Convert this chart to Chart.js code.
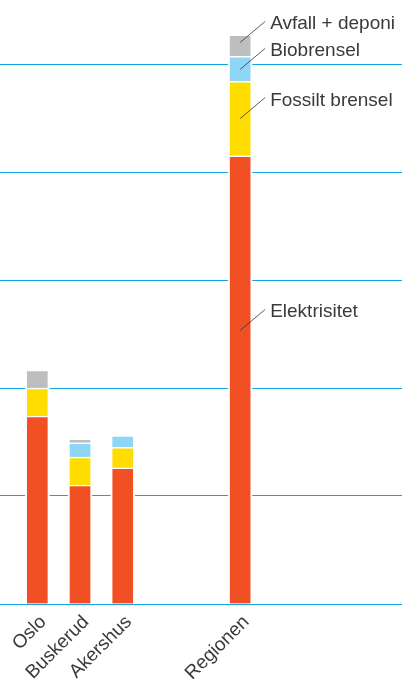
<!DOCTYPE html>
<html>
<head>
<meta charset="utf-8">
<script src="https://cdn.jsdelivr.net/npm/chart.js@4"></script>
<style>
  html, body { margin: 0; padding: 0; background: #fff; }
  #wrap { width: 402px; height: 679px; position: relative; }
</style>
</head>
<body>
<div id="wrap"><canvas id="chart"></canvas></div>
<script>
'use strict';

// categories and where they sit along the x axis (Regionen stands apart)
const categories = ['Oslo', 'Buskerud', 'Akershus', 'Regionen'];
const slots      = [0, 1, 2, 4.75];

// energy use by source, stacked bottom to top
const elektrisitet = [17.4, 11.0, 12.6, 41.5];
const fossilt      = [2.6, 2.6, 1.9, 6.9];
const biobrensel   = [0, 1.33, 1.1, 2.3];
const avfall       = [1.67, 0.37, 0, 2.0];

const gridValues   = [0, 10, 20, 30, 40, 50];

const seriesNames  = ['Elektrisitet', 'Fossilt brensel', 'Biobrensel', 'Avfall + deponi'];
const seriesColors = ['#f15024', '#ffdd00', '#8dd6f6', '#bcbec0'];
// where the leader line touches the Regionen segment (share of segment height, from bottom)
const labelAnchor  = [0.61, 0.5, 0.48, 0.65];

const gridColor = '#14a4df';
const textColor = '#3a3a3a';
const font = "'Liberation Sans', Arial, sans-serif";

const series = [elektrisitet, fossilt, biobrensel, avfall];

const calloutPlugin = {
  id: 'callouts',
  afterDatasetsDraw(chart) {
    const ctx = chart.ctx;
    ctx.save();
    ctx.strokeStyle = '#333';
    ctx.lineWidth = 0.8;
    ctx.fillStyle = textColor;
    ctx.font = '300 19px ' + font;
    ctx.textBaseline = 'alphabetic';
    series.forEach((_, i) => {
      const el = chart.getDatasetMeta(i).data[3];
      const x0 = el.x;
      const y0 = el.base - (el.base - el.y) * labelAnchor[i];
      const x1 = x0 + 25, y1 = y0 - 21;
      ctx.beginPath();
      ctx.moveTo(x0, y0);
      ctx.lineTo(x1, y1);
      ctx.stroke();
      ctx.fillText(seriesNames[i], x1 + 5, y1 + 8);
    });
    ctx.restore();
  }
};

new Chart(document.getElementById('chart'), {
  type: 'bar',
  data: {
    datasets: series.map((vals, i) => ({
      label: seriesNames[i],
      data: vals.map((v, j) => ({ x: slots[j], y: v })),
      backgroundColor: seriesColors[i],
      borderColor: '#ffffff',
      borderWidth: { top: 1.5, left: 2, right: 2, bottom: 0 },
      borderSkipped: false,
      barThickness: 24
    }))
  },
  options: {
    responsive: true,
    maintainAspectRatio: false,
    animation: false,
    layout: { padding: { top: 10, left: 0, right: 0, bottom: 0 } },
    plugins: { legend: { display: false }, tooltip: { enabled: false } },
    scales: {
      x: {
        type: 'linear',
        stacked: true,
        offset: false,
        min: -0.874,
        max: 8.54,
        grid: { display: false },
        border: { display: false },
        afterBuildTicks: axis => { axis.ticks = slots.map(v => ({ value: v })); },
        afterFit: axis => { axis.height = 75; },
        ticks: {
          autoSkip: false,
          minRotation: 45,
          maxRotation: 45,
          color: textColor,
          padding: -1,
          labelOffset: 6,
          font: { family: font, size: 19, weight: '300' },
          callback: (v, i) => categories[i]
        }
      },
      y: {
        stacked: true,
        min: 0,
        max: 55,
        afterFit: axis => { axis.width = 0; },
        afterBuildTicks: axis => { axis.ticks = gridValues.map(v => ({ value: v })); },
        ticks: { display: false },
        border: { display: false },
        grid: {
          color: gridColor,
          lineWidth: 1,
          drawTicks: false
        }
      }
    }
  },
  plugins: [calloutPlugin]
});
</script>
</body>
</html>
